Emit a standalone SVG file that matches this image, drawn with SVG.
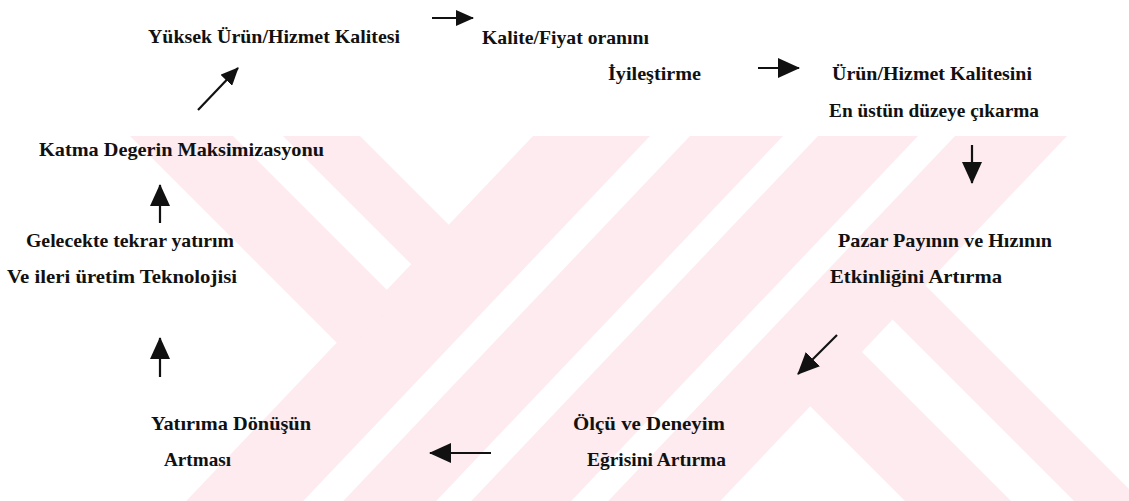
<svg xmlns="http://www.w3.org/2000/svg" width="1129" height="501" viewBox="0 0 1129 501">
  <defs>
    <style>
      .lbl { font-family: "Liberation Serif", "Times New Roman", serif; font-weight: bold; font-size: 19.5px; fill: #111111; }
      .wm { fill: #fdebef; stroke: none; }
      .conn { stroke: #111111; stroke-width: 2.2; fill: none; }
      .big { marker-end: url(#head); }
      .small { marker-end: url(#head-sm); }
    </style>
    <marker id="head" markerUnits="userSpaceOnUse" viewBox="0 0 22 20" markerWidth="22" markerHeight="20" refX="21" refY="10" orient="auto">
      <path d="M0,0 L22,10 L0,20 Z" fill="#111111"/>
    </marker>
    <marker id="head-sm" markerUnits="userSpaceOnUse" viewBox="0 0 18 16" markerWidth="18" markerHeight="16" refX="17" refY="8" orient="auto">
      <path d="M0,0 L18,8 L0,16 Z" fill="#111111"/>
    </marker>
  </defs>

  <rect width="1129" height="501" fill="#ffffff"/>

  <!-- background emblem: pale diagonal bands -->
  <g id="emblem" class="wm">
    <polygon points="533,136 650,136 303.25,501 186.25,501"/>
    <polygon points="690,136 783,136 436.25,501 343.25,501"/>
    <polygon points="818,136 918,136 571.25,501 471.25,501"/>
    <polygon points="955,136 1067,136 720.25,501 608.25,501"/>
    <polygon points="130,136 233,136 397,300 346,352"/>
    <polygon points="283,136 360,136 459,235 422,275"/>
    <polygon points="802,398 852,342 1011,501 905,501"/>
    <polygon points="885,312 918,278 1141,501 1074,501"/>
  </g>

  <!-- connectors -->
  <g id="connectors">
    <line class="conn small" x1="432" y1="18" x2="473" y2="18"/>
    <line class="conn small" x1="198" y1="110" x2="238" y2="68"/>
    <line class="conn big" x1="758" y1="68" x2="799" y2="68"/>
    <line class="conn big" x1="972" y1="145" x2="972" y2="183"/>
    <line class="conn big" x1="837" y1="335" x2="798" y2="374"/>
    <line class="conn big" x1="491" y1="453" x2="430" y2="453"/>
    <line class="conn big" x1="160" y1="377" x2="160" y2="338"/>
    <line class="conn big" x1="160" y1="223" x2="160" y2="185"/>
  </g>

  <!-- nodes -->
  <g id="node-yuksek-kalite">
    <text class="lbl" x="148" y="43" textLength="252" lengthAdjust="spacingAndGlyphs">Yüksek Ürün/Hizmet Kalitesi</text>
  </g>
  <g id="node-kalite-fiyat">
    <text class="lbl" x="482" y="44" textLength="167" lengthAdjust="spacingAndGlyphs">Kalite/Fiyat oranını</text>
    <text class="lbl" x="608" y="80" textLength="93" lengthAdjust="spacingAndGlyphs">İyileştirme</text>
  </g>
  <g id="node-en-ustun">
    <text class="lbl" x="832" y="80" textLength="200" lengthAdjust="spacingAndGlyphs">Ürün/Hizmet Kalitesini</text>
    <text class="lbl" x="829" y="117" textLength="210" lengthAdjust="spacingAndGlyphs">En üstün düzeye çıkarma</text>
  </g>
  <g id="node-katma-deger">
    <text class="lbl" x="39" y="156" textLength="285" lengthAdjust="spacingAndGlyphs">Katma Degerin Maksimizasyonu</text>
  </g>
  <g id="node-yatirim-teknoloji">
    <text class="lbl" x="26" y="247" textLength="208" lengthAdjust="spacingAndGlyphs">Gelecekte tekrar yatırım</text>
    <text class="lbl" x="7" y="283" textLength="230" lengthAdjust="spacingAndGlyphs">Ve ileri üretim Teknolojisi</text>
  </g>
  <g id="node-pazar-payi">
    <text class="lbl" x="838" y="247" textLength="214" lengthAdjust="spacingAndGlyphs">Pazar Payının ve Hızının</text>
    <text class="lbl" x="830" y="283" textLength="172" lengthAdjust="spacingAndGlyphs">Etkinliğini  Artırma</text>
  </g>
  <g id="node-yatirima-donus">
    <text class="lbl" x="151" y="430" textLength="160" lengthAdjust="spacingAndGlyphs">Yatırıma Dönüşün</text>
    <text class="lbl" x="164" y="466" textLength="67" lengthAdjust="spacingAndGlyphs">Artması</text>
  </g>
  <g id="node-olcu-deneyim">
    <text class="lbl" x="573" y="430" textLength="152" lengthAdjust="spacingAndGlyphs">Ölçü ve Deneyim</text>
    <text class="lbl" x="587" y="466" textLength="139" lengthAdjust="spacingAndGlyphs">Eğrisini Artırma</text>
  </g>
</svg>
